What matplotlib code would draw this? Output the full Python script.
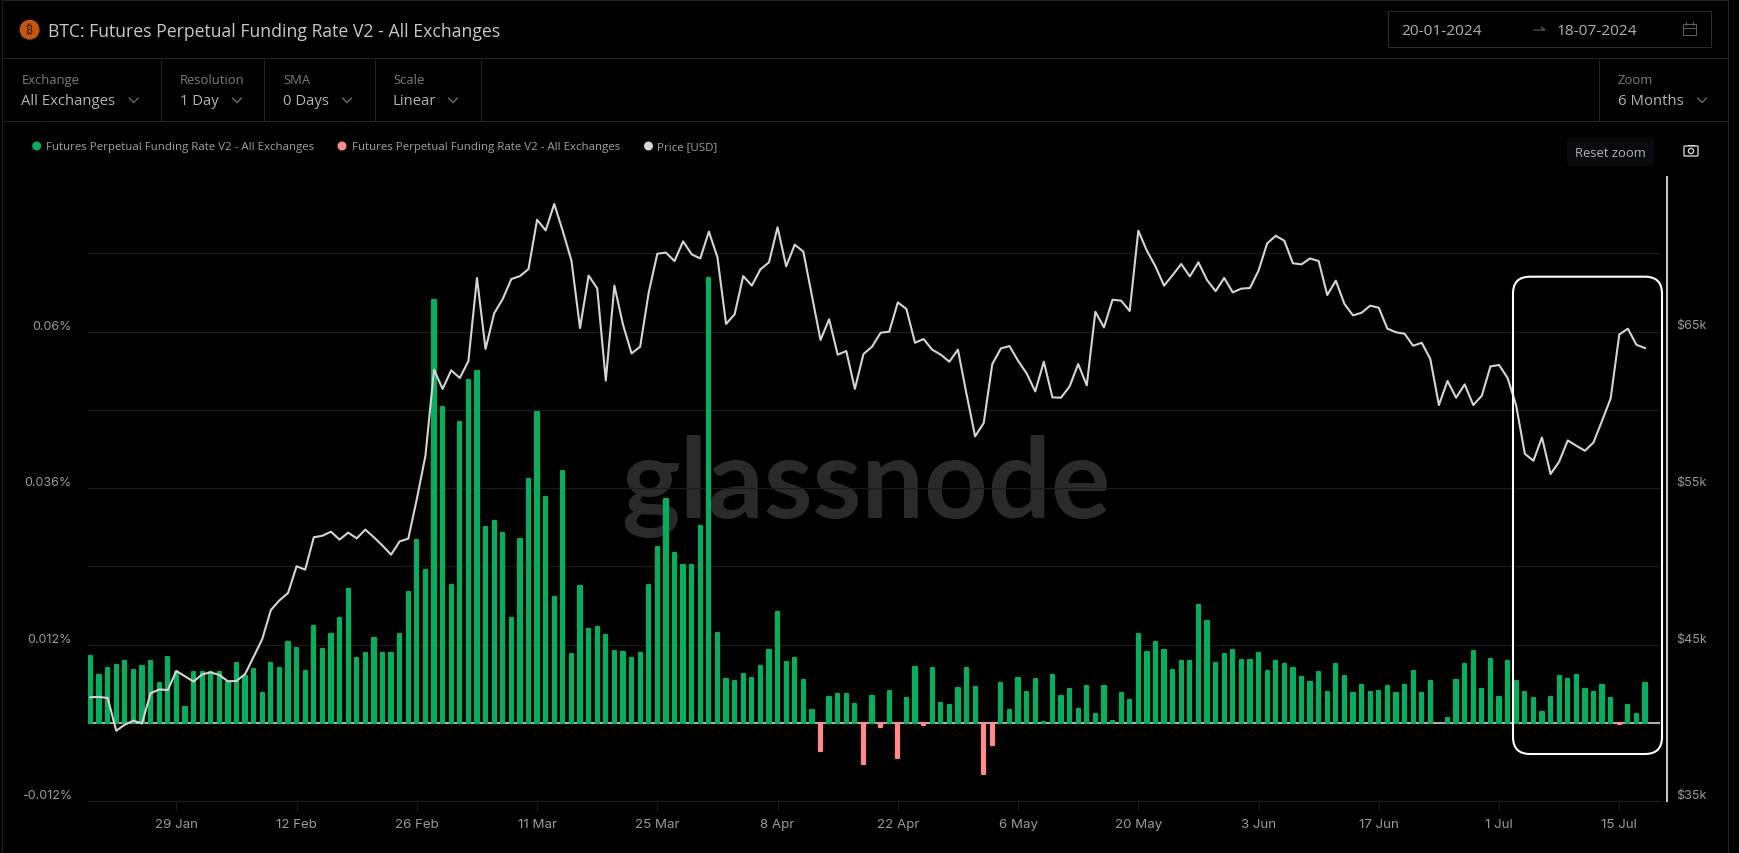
# BTC funding rate chart, dark glassnode style
import pandas as pd
import matplotlib
matplotlib.use('Agg')
import matplotlib.pyplot as plt
from matplotlib.lines import Line2D
from matplotlib.patches import Circle, FancyBboxPatch, Rectangle
from matplotlib.transforms import Affine2D

plt.rcParams['font.family'] = ['Inter', 'DejaVu Sans']

# Daily funding rate in percent, 19 Jan to 18 Jul 2024
funding = [
    0.01028, 0.00731, 0.00833, 0.00889, 0.00941, 0.00808, 0.00874, 0.00941, 0.00613, 0.01012,
    0.00782, 0.00235, 0.00772, 0.00772, 0.00782, 0.00782, 0.00629, 0.00910, 0.00721, 0.00823,
    0.00460, 0.00910, 0.00838, 0.01232, 0.01145, 0.00787, 0.01488, 0.01130, 0.01355, 0.01615,
    0.02045, 0.00997, 0.01063, 0.01304, 0.01063, 0.01063, 0.01355, 0.02009, 0.02806, 0.02341,
    0.06482, 0.04841, 0.02111, 0.04616, 0.05255, 0.05393, 0.03011, 0.03098, 0.02919, 0.01615,
    0.02817, 0.03737, 0.04769, 0.03466, 0.01927, 0.03860, 0.01048, 0.02096, 0.01436, 0.01472,
    0.01344, 0.01099, 0.01084, 0.00997, 0.01068, 0.02111, 0.02699, 0.03430, 0.02612, 0.02423,
    0.02423, 0.03016, 0.06825, 0.01370, 0.00665, 0.00634, 0.00751, 0.00685, 0.00874, 0.01114,
    0.01697, 0.00930, 0.00997, 0.00649, 0.00199, -0.00429, 0.00389, 0.00440, 0.00440, 0.00286,
    -0.00639, 0.00404, -0.00072, 0.00491, -0.00547, 0.00373, 0.00854, -0.00036, 0.00838, 0.00302,
    0.00271, 0.00527, 0.00838, 0.00547, -0.00782, -0.00348, 0.00613, 0.00199, 0.00680, 0.00475,
    0.00665, 0.00015, 0.00731, 0.00404, 0.00511, 0.00215, 0.00562, 0.00128, 0.00562, 0.00031,
    0.00460, 0.00343, 0.01360, 0.01084, 0.01237, 0.01114, 0.00808, 0.00946, 0.00946, 0.01805,
    0.01559, 0.00910, 0.01058, 0.01114, 0.00966, 0.00966, 0.01068, 0.00792, 0.00946, 0.00895,
    0.00838, 0.00705, 0.00619, 0.00772, 0.00475, 0.00895, 0.00721, 0.00460, 0.00578, 0.00475,
    0.00491, 0.00562, 0.00460, 0.00578, 0.00787, 0.00460, 0.00634, 0.0, 0.00066, 0.00649,
    0.00895, 0.01099, 0.00511, 0.00976, 0.00389, 0.00946, 0.00634, 0.00475, 0.00373, 0.00164,
    0.00389, 0.00716, 0.00665, 0.00736, 0.00511, 0.00475, 0.00578, 0.00373, -0.00020, 0.00271,
    0.00128, 0.00613,
]

# BTC price in thousand USD
price = [
    41.63, 41.65, 41.58, 39.49, 39.88, 40.13, 39.96, 41.88, 42.13, 42.09,
    43.31, 42.97, 42.63, 43.09, 43.22, 43.05, 42.65, 42.67, 43.11, 44.22,
    45.35, 47.20, 47.82, 48.29, 50.00, 49.78, 51.85, 51.95, 52.21, 51.70,
    52.15, 51.78, 52.34, 51.85, 51.32, 50.74, 51.59, 51.76, 54.30, 57.06,
    62.56, 61.33, 62.52, 62.03, 63.11, 68.42, 63.88, 66.16, 67.08, 68.35,
    68.54, 68.99, 72.14, 71.46, 73.15, 71.40, 69.53, 65.22, 68.57, 67.76,
    61.86, 67.93, 65.44, 63.60, 64.03, 67.50, 69.97, 70.04, 69.50, 70.76,
    69.93, 69.67, 71.38, 69.74, 65.48, 66.10, 68.54, 67.93, 68.97, 69.42,
    71.66, 69.16, 70.55, 70.10, 67.29, 64.46, 65.78, 63.52, 63.75, 61.33,
    63.56, 64.03, 64.92, 64.99, 66.86, 66.44, 64.28, 64.52, 63.84, 63.52,
    63.07, 63.84, 61.00, 58.30, 59.15, 62.92, 63.92, 64.07, 63.13, 62.32,
    61.17, 63.07, 60.79, 60.77, 61.49, 62.92, 61.56, 66.26, 65.26, 67.03,
    66.97, 66.31, 71.44, 70.16, 69.16, 67.93, 68.61, 69.31, 68.52, 69.42,
    68.29, 67.58, 68.42, 67.50, 67.74, 67.78, 68.89, 70.63, 71.12, 70.80,
    69.36, 69.29, 69.67, 69.50, 67.33, 68.25, 66.76, 66.03, 66.20, 66.65,
    66.52, 65.18, 64.95, 64.86, 64.09, 64.28, 63.24, 60.30, 61.84, 60.77,
    61.62, 60.30, 60.90, 62.77, 62.86, 62.03, 60.26, 57.19, 56.74, 58.23,
    55.89, 56.68, 58.04, 57.70, 57.38, 57.91, 59.30, 60.73, 64.81, 65.18,
    64.15, 63.94,
]

start_date = '2024-01-19'
tick_dates = ['2024-01-29', '2024-02-12', '2024-02-26', '2024-03-11', '2024-03-25',
              '2024-04-08', '2024-04-22', '2024-05-06', '2024-05-20', '2024-06-03',
              '2024-06-17', '2024-07-01', '2024-07-15']
tick_labels = ['29 Jan', '12 Feb', '26 Feb', '11 Mar', '25 Mar', '8 Apr', '22 Apr',
               '6 May', '20 May', '3 Jun', '17 Jun', '1 Jul', '15 Jul']
funding_ticks = [-0.012, 0.012, 0.024, 0.036, 0.048, 0.06, 0.072]
funding_labels = ['-0.012%', '0.012%', '', '0.036%', '', '0.06%', '']
price_ticks = [35, 45, 55, 65]
price_labels = ['$35k', '$45k', '$55k', '$65k']

W, H = 1740, 854
GREEN = '#0aad5e'
PINK = '#ff8a8a'

fig = plt.figure(figsize=(W / 100, H / 100), dpi=100, facecolor='black')
px = Affine2D().scale(1, -1).translate(0, H)  # page pixels, origin top left


def label(x, y, s, size, color='#a8a8a8', ha='left', **kw):
    fig.text(x, y + 1, s, fontsize=size * 0.72, color=color, ha=ha, va='center',
             transform=px, **kw)


def rule(xs, ys, color='#242424', lw=1.0):
    fig.add_artist(Line2D(xs, ys, color=color, lw=lw * 0.72, transform=px))


def chevron(x, y):
    rule([x - 4.5, x, x + 4.5], [y - 3, y + 1.5, y - 3], color='#808080', lw=1.1)


# Page frame and header
rule([2, 1728], [1, 1])
rule([2, 2], [1, 854])
rule([1728, 1728], [1, 854])
rule([2, 1728], [59, 59])
rule([2, 1728], [121.5, 121.5])
for x in [160.7, 264, 374.5, 480.6, 1599.3]:
    rule([x, x], [59, 121.5])

fig.add_artist(Circle((29.6, 30.7), 9.3, color='#c4570f', transform=px))
label(29.6, 29.7, '\u20bf', 12, color='#3a1a05', ha='center', fontweight='bold',
      family=['Noto Sans', 'Roboto', 'Open Sans', 'Lato', 'Liberation Sans', 'DejaVu Sans'])
label(48.5, 31, 'BTC: Futures Perpetual Funding Rate V2 - All Exchanges', 17.6, color='#c8c8c8',
      family=['Open Sans'])

controls = [(21.4, 'Exchange', 'All Exchanges', 133.7), (179.6, 'Resolution', '1 Day', 237),
            (283, 'SMA', '0 Days', 347), (393, 'Scale', 'Linear', 453),
            (1618, 'Zoom', '6 Months', 1702)]
for x, name, value, chev_x in controls:
    label(x, 79.5, name, 13, color='#7d7d7d', family=['Open Sans'])
    label(x, 100.7, value, 14.9, color='#b4b4b4', family=['Open Sans'])
    chevron(chev_x, 102)

# Date range box
fig.add_artist(Rectangle((1388, 12.3), 322.7, 35.4, fill=False, ec='#2c2c2c', lw=0.72, transform=px))
label(1401.7, 30.7, '20-01-2024', 15.4, color='#b0b0b0', family=['Open Sans'])
label(1557, 30.7, '18-07-2024', 15.4, color='#b0b0b0', family=['Open Sans'])
rule([1534, 1545, 1541], [31, 31, 28], color='#6a6a6a')
fig.add_artist(Rectangle((1682.5, 25), 13.5, 11, fill=False, ec='#5c5c5c', lw=0.72, transform=px))
rule([1682.5, 1696], [28.5, 28.5], color='#5c5c5c')
rule([1686, 1686], [23, 26], color='#5c5c5c')
rule([1692.5, 1692.5], [23, 26], color='#5c5c5c')

# Legend row
legend_items = [(36.7, 46, 'Futures Perpetual Funding Rate V2 - All Exchanges', GREEN),
                (342, 351.5, 'Futures Perpetual Funding Rate V2 - All Exchanges', PINK),
                (648.5, 657, 'Price [USD]', '#d8d8d8')]
for dot_x, text_x, text, color in legend_items:
    fig.add_artist(Circle((dot_x, 147), 3.8, color=color, transform=px))
    label(text_x, 147, text, 11.5, color='#a0a0a0', family=['Open Sans'])

# Reset zoom button and camera icon
fig.add_artist(FancyBboxPatch((1570, 141), 81, 23, boxstyle='round,pad=3', fc='#08090c', ec='none',
                              transform=px))
label(1610.7, 153, 'Reset zoom', 13, color='#b4b4b4', ha='center', family=['Open Sans'])
fig.add_artist(FancyBboxPatch((1685, 148), 12, 8, boxstyle='round,pad=1', fill=False, ec='#d0d0d0',
                              lw=1.0, transform=px))
fig.add_artist(Circle((1691, 152), 2.6, fill=False, ec='#d0d0d0', lw=1.0, transform=px))
rule([1688, 1694], [146, 146], color='#d0d0d0')

# Watermark sits behind the chart
fig.text(866, 518, 'glassnode', fontsize=80, color='#2a2a2a', ha='center', va='baseline',
         family=['Lato'], fontweight='bold', transform=px, zorder=-1)

# Chart axes
left, right, top, bottom = 87.9, 1660.5, 178, 802
ax = fig.add_axes([left / W, 1 - bottom / H, (right - left) / W, (bottom - top) / H])
ax.patch.set_alpha(0)

dates = pd.date_range(start_date, periods=len(funding), freq='D')
funding = pd.Series(funding, index=dates)
price = pd.Series(price, index=dates)
pos = funding[funding > 0]
neg = funding[funding < 0]

ax.axhline(0, color='#b5abab', lw=1.5, zorder=1)
bar_w = pd.Timedelta(hours=9)
ax.bar(pos.index, pos.values, width=bar_w, color=GREEN, edgecolor=GREEN, lw=1.6, joinstyle='round', zorder=2)
ax.bar(neg.index, neg.values, width=bar_w, color=PINK, edgecolor=PINK, lw=1.6, joinstyle='round', zorder=2)

ax.set_xlim(dates[0] - pd.Timedelta(days=0.3), dates[0] + pd.Timedelta(days=182.8))
ax.set_ylim(-0.012, 0.012 + 0.012 * (645.75 - top) / 78.25)
ax.set_xticks(pd.to_datetime(tick_dates))
ax.set_xticklabels(tick_labels)
ax.set_yticks(funding_ticks)
ax.set_yticklabels(funding_labels, va='bottom')
ax.grid(axis='y', color='#1b1b1b', lw=0.9, zorder=0)
ax.set_axisbelow(True)
ax.tick_params(axis='x', length=6.5, width=0.7, color='#222222', labelcolor='#9a9a9a', labelsize=9.6, pad=6)
ax.tick_params(axis='y', length=0, labelcolor='#9a9a9a', labelsize=9, pad=11.6)
for s in ax.spines.values():
    s.set_visible(False)
ax.spines['bottom'].set_visible(True)
ax.spines['bottom'].set_color('#1f1f1f')

ax2 = ax.twinx()
ax2.plot(price.index, price.values, color='#d4d4d4', lw=1.5, zorder=3)
ax2.set_ylim(35, 35 + (bottom - top) / 15.65)
ax2.set_yticks(price_ticks)
ax2.set_yticklabels(price_labels, va='bottom')
ax2.tick_params(axis='y', length=0, labelcolor='#9a9a9a', labelsize=9, pad=11)
for s in ax2.spines.values():
    s.set_visible(False)

# Right edge line and the highlight box drawn over the chart
fig.add_artist(Line2D([1667.4, 1667.4], [top, bottom], color='#c4c4c4', lw=1.5, transform=px, zorder=5))
fig.add_artist(FancyBboxPatch((1530, 294.7), 115, 443.3, boxstyle='round,pad=17', fill=False, ec='white',
                              lw=1.5, transform=px, zorder=5))

fig.savefig('out.png', dpi=100, facecolor='black')
